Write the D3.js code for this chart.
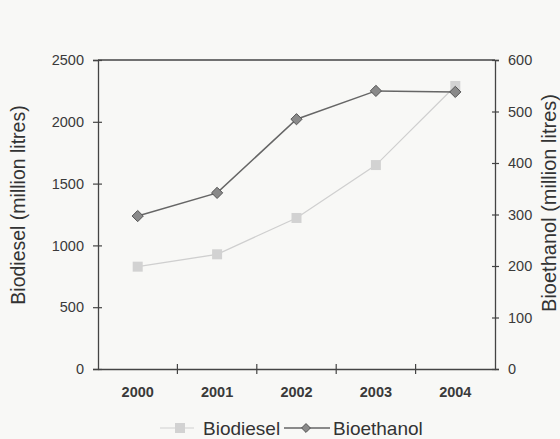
<!DOCTYPE html>
<html><head><meta charset="utf-8">
<script src="https://cdn.jsdelivr.net/npm/d3@7"></script>
<style>body{margin:0;background:#f8f8f6;}svg{display:block;font-family:"Liberation Sans",Arial,sans-serif;}</style>
</head><body>
<svg id="c" width="560" height="439"></svg>
<script>
const years = ["2000","2001","2002","2003","2004"];
const biodiesel = [828, 928, 1222, 1650, 2290];
const bioethanol = [297, 342, 485, 540, 538];
const leftTicks = [0,500,1000,1500,2000,2500];
const rightTicks = [0,100,200,300,400,500,600];

const svg = d3.select("#c");
const m = {l:98, r:495, t:60, b:369};
svg.append("rect").attr("width",560).attr("height",439).attr("fill","#f8f8f6");

const x = d3.scaleBand().domain(years).range([m.l, m.r]);
const yL = d3.scaleLinear().domain([0,2500]).range([m.b, m.t]);
const yR = d3.scaleLinear().domain([0,600]).range([m.b, m.t]);
const cx = d => x(d) + x.bandwidth()/2;

// frame top
svg.append("line").attr("x1",m.l).attr("x2",m.r).attr("y1",m.t).attr("y2",m.t).attr("stroke","#444").attr("stroke-width",1.3);

// left axis
const gL = svg.append("g").attr("transform",`translate(${m.l},0)`)
  .call(d3.axisLeft(yL).tickValues(leftTicks).tickSize(5).tickPadding(9).tickFormat(d3.format("d")));
gL.selectAll(".tick line").attr("x2",4).attr("x1",-5);
// right axis
const gR = svg.append("g").attr("transform",`translate(${m.r},0)`)
  .call(d3.axisRight(yR).tickValues(rightTicks).tickSize(4).tickPadding(9).tickFormat(d3.format("d")));
gR.selectAll(".tick line").attr("x1",-3);
// bottom axis
const gB = svg.append("g").attr("transform",`translate(0,${m.b})`)
  .call(d3.axisBottom(x).tickSize(0).tickPadding(18));
gB.selectAll(".tick text").attr("font-weight","bold");
// band boundary ticks
svg.append("g").selectAll("line").data(years.slice(1)).join("line")
  .attr("x1",d=>x(d)).attr("x2",d=>x(d)).attr("y1",m.b-5).attr("y2",m.b+5)
  .attr("stroke","#444").attr("stroke-width",1.2);

[gL,gR,gB].forEach(g=>{
  g.attr("font-size",14.5).attr("font-family","Liberation Sans, Arial, sans-serif");
  g.select(".domain").attr("stroke","#444").attr("stroke-width",1.3);
  g.selectAll(".tick line").attr("stroke","#444").attr("stroke-width",1.2);
  g.selectAll(".tick text").attr("fill","#3a3a3a");
});

// axis titles
svg.append("text").attr("transform","translate(25,205) rotate(-90)").attr("text-anchor","middle")
  .attr("font-size",19.5).attr("fill","#333").text("Biodiesel (million litres)");
svg.append("text").attr("transform","translate(556,203) rotate(-90)").attr("text-anchor","middle")
  .attr("font-size",20).attr("fill","#333").text("Bioethanol (million litres)");

// biodiesel series
const bd = years.map((y,i)=>[cx(y), yL(biodiesel[i])]);
svg.append("path").attr("d",d3.line()(bd)).attr("fill","none").attr("stroke","#cfcfcf").attr("stroke-width",1.2);
svg.append("g").selectAll("rect").data(bd).join("rect")
  .attr("x",d=>d[0]-5).attr("y",d=>d[1]-5).attr("width",10).attr("height",10).attr("fill","#d2d2d2");

// bioethanol series
const be = years.map((y,i)=>[cx(y), yR(bioethanol[i])]);
svg.append("path").attr("d",d3.line()(be)).attr("fill","none").attr("stroke","#666").attr("stroke-width",1.5);
const diamond = d3.symbol().type(d3.symbolDiamond2).size(80);
svg.append("g").selectAll("path").data(be).join("path")
  .attr("transform",d=>`translate(${d[0]},${d[1]})`).attr("d",diamond)
  .attr("fill","#8a8a8a").attr("stroke","#555").attr("stroke-width",1);

// legend
const ly = 428;
svg.append("line").attr("x1",160).attr("x2",194).attr("y1",ly).attr("y2",ly).attr("stroke","#cfcfcf").attr("stroke-width",1.2);
svg.append("rect").attr("x",175).attr("y",ly-5).attr("width",10).attr("height",10).attr("fill","#d2d2d2");
svg.append("text").attr("x",203).attr("y",ly+7).attr("font-size",19).attr("fill","#333").text("Biodiesel");
svg.append("line").attr("x1",284).attr("x2",330).attr("y1",ly).attr("y2",ly).attr("stroke","#666").attr("stroke-width",1.5);
svg.append("path").attr("transform",`translate(306,${ly})`).attr("d",d3.symbol().type(d3.symbolDiamond2).size(50))
  .attr("fill","#8a8a8a").attr("stroke","#555");
svg.append("text").attr("x",333).attr("y",ly+7).attr("font-size",19).attr("fill","#333").text("Bioethanol");
</script>
</body></html>
